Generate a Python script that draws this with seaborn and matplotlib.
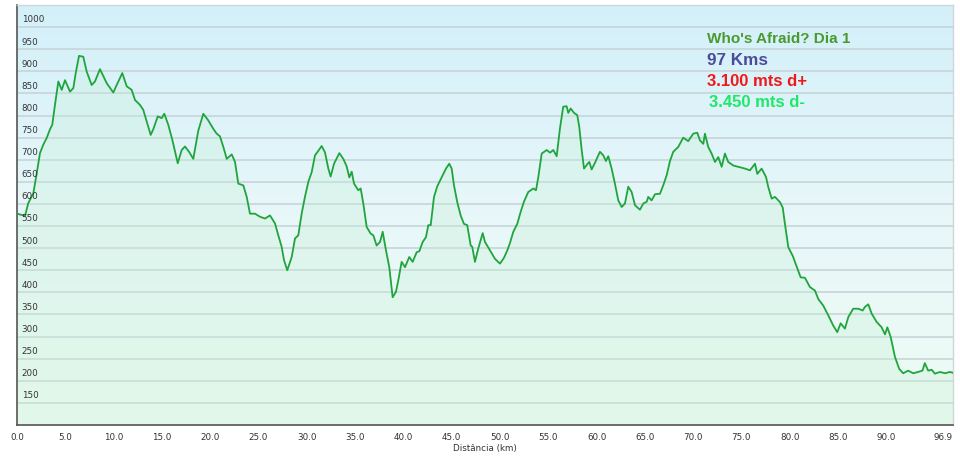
import matplotlib
matplotlib.use("Agg")
import matplotlib.pyplot as plt
from matplotlib.colors import LinearSegmentedColormap
from matplotlib import transforms
import seaborn as sns
import numpy as np
import pandas as pd

# Elevation profile (km, metres)
distance_km = [
    0.00, 0.83, 1.17, 1.69, 2.04, 2.38, 2.72, 3.07, 3.42, 3.65, 3.93, 4.28, 4.63, 4.97,
    5.49, 5.83, 6.08, 6.42, 6.86, 7.22, 7.73, 8.07, 8.59, 9.29, 9.97, 10.32, 10.90, 11.36,
    11.87, 12.22, 12.73, 13.07, 13.43, 13.84, 14.11, 14.57, 14.98, 15.25, 15.66, 16.08,
    16.64, 17.05, 17.39, 17.84, 18.25, 18.77, 19.29, 19.80, 20.32, 20.67, 21.01, 21.36,
    21.71, 22.23, 22.57, 22.91, 23.43, 23.78, 24.12, 24.64, 25.16, 25.67, 26.19, 26.71,
    27.05, 27.40, 27.64, 27.98, 28.44, 28.78, 29.12, 29.47, 29.81, 30.16, 30.51, 30.85,
    31.19, 31.54, 31.88, 32.23, 32.47, 32.82, 33.37, 33.78, 34.13, 34.40, 34.65, 34.89,
    35.33, 35.58, 35.85, 36.20, 36.61, 36.89, 37.23, 37.58, 37.86, 38.20, 38.54, 38.89,
    39.23, 39.47, 39.82, 40.17, 40.61, 40.96, 41.38, 41.65, 42.00, 42.34, 42.58, 42.83,
    43.17, 43.51, 43.96, 44.41, 44.75, 45.00, 45.24, 45.58, 45.93, 46.27, 46.61, 46.97,
    47.13, 47.41, 47.75, 48.21, 48.45, 48.96, 49.48, 50.00, 50.41, 50.76, 51.04, 51.38,
    51.79, 52.14, 52.48, 52.93, 53.45, 53.73, 53.97, 54.32, 54.84, 55.18, 55.52, 55.87,
    56.21, 56.55, 56.90, 57.07, 57.32, 57.66, 58.00, 58.21, 58.46, 58.70, 59.04, 59.25,
    59.49, 59.83, 60.35, 60.69, 60.97, 61.21, 61.56, 61.90, 62.25, 62.60, 62.94, 63.28,
    63.63, 63.98, 64.49, 64.84, 65.19, 65.35, 65.70, 66.05, 66.56, 66.90, 67.26, 67.60,
    67.94, 68.46, 68.97, 69.49, 70.01, 70.43, 70.70, 71.05, 71.22, 71.56, 71.91, 72.26,
    72.60, 72.95, 73.29, 73.63, 74.15, 74.67, 75.36, 75.88, 76.40, 76.64, 77.09, 77.54,
    77.78, 78.13, 78.47, 78.99, 79.27, 79.50, 79.85, 80.30, 80.71, 81.13, 81.57, 82.09,
    82.61, 82.95, 83.47, 83.99, 84.50, 84.92, 85.27, 85.71, 86.06, 86.57, 87.09, 87.55,
    87.78, 88.13, 88.48, 89.00, 89.51, 89.86, 90.10, 90.45, 90.89, 91.33, 91.74, 92.26,
    92.78, 93.29, 93.74, 93.98, 94.33, 94.69, 95.03, 95.55, 96.07, 96.58, 96.90,
]
elevation_m = [
    578, 573, 602, 624, 669, 715, 734, 749, 769, 779, 824, 877, 858, 880,
    854, 862, 896, 935, 933, 899, 869, 877, 905, 873, 852, 869, 896, 866,
    858, 835, 824, 813, 786, 756, 769, 798, 794, 804, 779, 745,
    692, 722, 730, 717, 702, 766, 804, 789, 770, 759, 753, 729,
    702, 712, 695, 646, 642, 616, 578, 578, 571, 567, 574, 556,
    529, 503, 473, 450, 480, 522, 529, 578, 616, 650, 672, 710,
    720, 731, 717, 680, 662, 691, 715, 702, 685, 660, 673, 646,
    631, 635, 601, 548, 533, 529, 506, 514, 537, 495, 457, 389,
    401, 427, 469, 457, 480, 469, 491, 493, 514, 525, 552, 552,
    616, 640, 660, 680, 691, 680, 642, 604, 574, 555, 552, 506,
    503, 469, 499, 534, 514, 495, 476, 465, 478, 495, 512, 537,
    555, 582, 605, 627, 635, 631, 661, 714, 722, 716, 722, 708,
    771, 820, 821, 806, 816, 806, 801, 774, 722, 680, 690, 695,
    678, 693, 718, 710, 697, 708, 680, 646, 608, 593, 601, 639,
    627, 597, 587, 601, 605, 616, 608, 622, 623, 642, 665, 697,
    718, 729, 750, 742, 759, 761, 744, 736, 759, 729, 714, 695,
    706, 684, 714, 695, 687, 684, 680, 676, 691, 668, 680, 661,
    638, 612, 616, 604, 592, 555, 502, 483, 459, 434, 433, 412,
    404, 385, 370, 348, 325, 310, 330, 318, 344, 363, 363, 359,
    367, 373, 352, 333, 321, 305, 321, 299, 254, 227, 217, 223,
    217, 220, 223, 240, 223, 225, 216, 220, 217, 220, 218,
]

y_ticks = list(range(150, 1001, 50))
x_ticks = [0, 5, 10, 15, 20, 25, 30, 35, 40, 45, 50, 55, 60, 65, 70, 75, 80, 85, 90, 96.9]

title_lines = ["Who's Afraid? Dia 1", "97 Kms", "3.100 mts d+", "3.450 mts d-"]
title_colors = ["#4a9a30", "#4b4b9b", "#f01818", "#1ee868"]

df = pd.DataFrame({"km": distance_km, "elev": elevation_m})

sns.set_style("white")
plt.rcParams["font.family"] = ["DejaVu Sans"]

fig = plt.figure(figsize=(9.6, 4.57), dpi=100)
ax = fig.add_axes([17 / 960, 1 - 425 / 457, 936 / 960, 420 / 457])

x0, x1, y0, y1 = 0, 96.9, 100, 1050

# gradient background, light blue on top to mint at the bottom
bg = LinearSegmentedColormap.from_list("bg", ["#d3f0fa", "#e8f7f9", "#eefcf4"])
ax.imshow(np.linspace(0, 1, 256).reshape(-1, 1), cmap=bg, aspect="auto",
          extent=[x0, x1, y0, y1], zorder=0)

ax.set_xlim(x0, x1)
ax.set_ylim(y0, y1)

ax.set_yticks(y_ticks)
ax.yaxis.grid(True, color="#c5d2d6", lw=1.1, zorder=1)
ax.tick_params(axis="y", length=0, labelleft=False)

ax.fill_between(df["km"], df["elev"], y0, color="#c6f0d6", alpha=0.3, lw=0, zorder=2)
sns.lineplot(data=df, x="km", y="elev", color="#1fa53c", lw=1.3, ax=ax, zorder=3)

trans = transforms.blended_transform_factory(ax.transAxes, ax.transData)
for t in y_ticks:
    ax.text(0.005, t + 6, str(t), transform=trans, fontsize=6.3, color="#333333",
            ha="left", va="bottom", zorder=4)

ax.set_xticks(x_ticks)
ax.set_xticklabels([f"{t:.1f}" for t in x_ticks])
ax.tick_params(axis="x", direction="out", length=4, width=1, color="#555555",
               labelsize=6.3, labelcolor="#333333", pad=1.5)
ax.get_xticklabels()[-1].set_horizontalalignment("right")

ax.set_xlabel("Distância (km)", fontsize=6.3, color="#333333", labelpad=2)
ax.set_ylabel("Elevação (m)", fontsize=6.3, color="#333333", labelpad=4)

for side in ["left", "bottom"]:
    ax.spines[side].set_color("#555555")
    ax.spines[side].set_linewidth(1.2)
for side in ["top", "right"]:
    ax.spines[side].set_color("#cfd6d8")
    ax.spines[side].set_linewidth(1)

ypos = [0.919, 0.867, 0.817, 0.767]
xpos = [0.737, 0.737, 0.737, 0.739]
sizes = [11, 12.3, 12, 12]
for txt, c, xp, yp, s in zip(title_lines, title_colors, xpos, ypos, sizes):
    ax.text(xp, yp, txt, transform=ax.transAxes, color=c, fontsize=s,
            fontweight="bold", family="Liberation Sans", ha="left", va="center", zorder=5)

fig.savefig("out.png", dpi=100)
